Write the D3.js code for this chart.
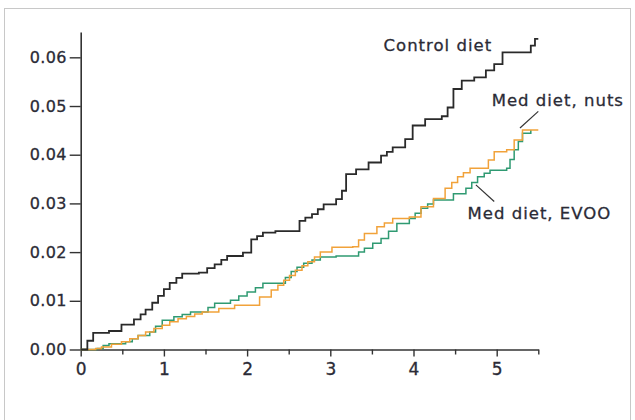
<!DOCTYPE html>
<html>
<head>
<meta charset="utf-8">
<script src="https://cdn.jsdelivr.net/npm/d3@7"></script>
<style>
  html, body { margin: 0; padding: 0; background: #fff; }
  svg { display: block; }
</style>
</head>
<body>
<svg id="chart" width="635" height="420"></svg>
<script>
// ---- data ----
const xTicks = [0, 1, 2, 3, 4, 5];
const xMinorTicks = [0.5, 1.5, 2.5, 3.5, 4.5, 5.5];
const yTicks = [0, 0.01, 0.02, 0.03, 0.04, 0.05, 0.06];
const yTickLabels = ["0.00", "0.01", "0.02", "0.03", "0.04", "0.05", "0.06"];
const seriesNames = ["Control diet", "Med diet, nuts", "Med diet, EVOO"];

const controlTime = [0, 0.08, 0.15, 0.34, 0.49, 0.64, 0.72, 0.78, 0.86, 0.93, 1.0, 1.07, 1.15, 1.22, 1.42, 1.52, 1.61, 1.69, 1.76, 1.95, 2.05, 2.12, 2.19, 2.34, 2.53, 2.63, 2.7, 2.78, 2.85, 2.92, 3.07, 3.14, 3.19, 3.31, 3.46, 3.61, 3.68, 3.75, 3.9, 3.99, 4.14, 4.34, 4.41, 4.48, 4.58, 4.73, 4.87, 4.97, 5.07, 5.36, 5.41, 5.46, 5.5];
const controlRisk = [0, 0.0018, 0.0034, 0.0038, 0.0051, 0.0062, 0.0072, 0.0082, 0.0096, 0.011, 0.0124, 0.0137, 0.0147, 0.0156, 0.0158, 0.0167, 0.0175, 0.0184, 0.0192, 0.0199, 0.0226, 0.0233, 0.024, 0.0243, 0.0243, 0.0264, 0.0271, 0.0278, 0.0288, 0.0298, 0.0309, 0.0326, 0.036, 0.037, 0.0384, 0.0398, 0.0406, 0.0415, 0.0432, 0.046, 0.0473, 0.0479, 0.0497, 0.0535, 0.0552, 0.0559, 0.0573, 0.0586, 0.061, 0.061, 0.0624, 0.0638, 0.0638];

const nutsTime = [0, 0.18, 0.25, 0.37, 0.49, 0.59, 0.69, 0.78, 0.88, 0.98, 1.07, 1.17, 1.27, 1.37, 1.46, 1.66, 1.85, 2.05, 2.15, 2.29, 2.37, 2.44, 2.51, 2.58, 2.66, 2.73, 2.81, 2.88, 3.02, 3.27, 3.34, 3.41, 3.56, 3.65, 3.75, 3.95, 4.09, 4.24, 4.38, 4.46, 4.53, 4.6, 4.68, 4.82, 4.9, 4.97, 5.12, 5.21, 5.31, 5.5];
const nutsRisk = [0, 0.0002, 0.0005, 0.0011, 0.0016, 0.0022, 0.0029, 0.0036, 0.0043, 0.005, 0.0057, 0.0063, 0.0068, 0.0073, 0.0077, 0.0084, 0.0091, 0.0091, 0.0108, 0.0122, 0.0132, 0.0142, 0.0152, 0.0163, 0.0172, 0.018, 0.019, 0.02, 0.021, 0.0211, 0.0225, 0.0238, 0.0252, 0.026, 0.0269, 0.0272, 0.0293, 0.031, 0.0331, 0.0343, 0.0355, 0.0363, 0.0372, 0.0372, 0.0389, 0.0406, 0.041, 0.043, 0.0451, 0.0451];

const evooTime = [0, 0.2, 0.27, 0.34, 0.54, 0.62, 0.69, 0.83, 0.9, 0.98, 1.12, 1.22, 1.32, 1.46, 1.53, 1.61, 1.8, 1.9, 2.0, 2.1, 2.19, 2.39, 2.46, 2.53, 2.6, 2.68, 2.78, 2.88, 3.07, 3.27, 3.34, 3.41, 3.51, 3.61, 3.7, 3.8, 3.95, 4.02, 4.09, 4.17, 4.24, 4.48, 4.63, 4.7, 4.77, 4.85, 4.92, 5.12, 5.16, 5.21, 5.26, 5.31, 5.41];
const evooRisk = [0, 0.0002, 0.0008, 0.0012, 0.0016, 0.0022, 0.0029, 0.0036, 0.0048, 0.006, 0.0067, 0.0072, 0.0077, 0.0077, 0.0086, 0.0095, 0.0101, 0.011, 0.0118, 0.0127, 0.0136, 0.0136, 0.0148, 0.016, 0.0169, 0.0177, 0.0184, 0.019, 0.0192, 0.0192, 0.02, 0.0208, 0.0218, 0.0228, 0.0243, 0.0259, 0.0269, 0.028, 0.029, 0.0299, 0.0307, 0.032, 0.0331, 0.0343, 0.0355, 0.0362, 0.0368, 0.0372, 0.039, 0.041, 0.0427, 0.0444, 0.0451];

// ---- chart ----
const svg = d3.select("#chart");
const textColor = "#2b2b36";
const axisColor = "#333";
const font = "'DejaVu Sans', sans-serif";

// outer frame
svg.append("rect")
  .attr("x", 4.5).attr("y", 8.5)
  .attr("width", 626).attr("height", 420)
  .attr("fill", "none").attr("stroke", "#c8c8c8").attr("stroke-width", 1);

const x = d3.scaleLinear().domain([0, 5.5]).range([80.7, 538.3]);
const y = d3.scaleLinear().domain([0, 0.0652]).range([349.5, 32]);

// y axis
const yAxis = d3.axisLeft(y)
  .tickValues(yTicks)
  .tickFormat((d, i) => yTickLabels[i])
  .tickSize(11).tickPadding(3).tickSizeOuter(0);
const gy = svg.append("g").attr("transform", `translate(${x(0)},0)`).call(yAxis);
gy.select(".domain").attr("stroke", axisColor).attr("stroke-width", 1.6);
gy.selectAll(".tick line").attr("stroke", axisColor).attr("stroke-width", 1.4);
gy.selectAll(".tick text")
  .attr("fill", textColor)
  .attr("stroke", textColor).attr("stroke-width", 0.3)
  .style("font-family", font)
  .style("font-size", "16px")
  .style("letter-spacing", "0.3px");

// x axis
const xAxis = d3.axisBottom(x)
  .tickValues(xTicks)
  .tickFormat(d3.format("d"))
  .tickSize(7).tickPadding(6).tickSizeOuter(0);
const gx = svg.append("g").attr("transform", `translate(0,${y(0)})`).call(xAxis);
gx.select(".domain").attr("stroke", axisColor).attr("stroke-width", 1.6);
gx.selectAll(".tick line").attr("stroke", axisColor).attr("stroke-width", 1.4);
gx.selectAll(".tick text")
  .attr("fill", textColor)
  .attr("stroke", textColor).attr("stroke-width", 0.3)
  .style("font-family", font)
  .style("font-size", "17px");

const xMinor = d3.axisBottom(x).tickValues(xMinorTicks).tickFormat("").tickSize(5).tickSizeOuter(0);
const gxm = svg.append("g").attr("transform", `translate(0,${y(0)})`).call(xMinor);
gxm.select(".domain").remove();
gxm.selectAll(".tick line").attr("stroke", axisColor).attr("stroke-width", 1.4);

// lines
const line = d3.line()
  .x(d => x(d[0]))
  .y(d => y(d[1]))
  .curve(d3.curveStepAfter);

const series = [
  { name: seriesNames[2], t: evooTime, v: evooRisk, color: "#2f9a72", w: 1.5 },
  { name: seriesNames[1], t: nutsTime, v: nutsRisk, color: "#f1a23a", w: 1.5 },
  { name: seriesNames[0], t: controlTime, v: controlRisk, color: "#2a2a2a", w: 1.8 }
];

series.forEach(s => {
  svg.append("path")
    .datum(s.t.map((t, i) => [t, s.v[i]]))
    .attr("d", line)
    .attr("fill", "none")
    .attr("stroke", s.color)
    .attr("stroke-width", s.w)
    .attr("stroke-linejoin", "miter");
});

// labels
const labels = [
  { text: seriesNames[0], t: 3.64, v: 0.0614 },
  { text: seriesNames[1], t: 4.94, v: 0.0501 },
  { text: seriesNames[2], t: 4.65, v: 0.0267 }
];
labels.forEach(l => {
  svg.append("text")
    .attr("x", x(l.t)).attr("y", y(l.v))
    .attr("fill", textColor)
    .attr("stroke", textColor).attr("stroke-width", 0.3)
    .style("font-family", font)
    .style("font-size", "16.5px")
    .style("letter-spacing", "1px")
    .text(l.text);
});

// leader lines
const leaders = [
  { t1: 5.5, v1: 0.0489, t2: 5.28, v2: 0.0455 },
  { t1: 4.75, v1: 0.0338, t2: 4.97, v2: 0.0304 }
];
leaders.forEach(l => {
  svg.append("line")
    .attr("x1", x(l.t1)).attr("y1", y(l.v1))
    .attr("x2", x(l.t2)).attr("y2", y(l.v2))
    .attr("stroke", "#333").attr("stroke-width", 1.2);
});
</script>
</body>
</html>
